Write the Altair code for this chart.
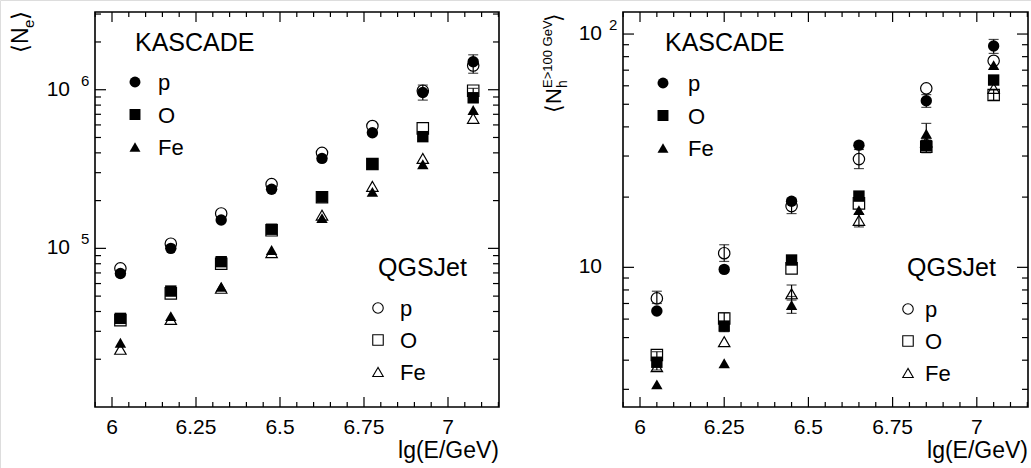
import altair as alt
import pandas as pd

FONT = "Liberation Sans"
W, H = 1031, 468

# ---------------- data ----------------
SPECIES = ["p", "O", "Fe"]

# left panel: <N_e> vs lg(E/GeV)
E_NE = [6.025, 6.175, 6.325, 6.475, 6.625, 6.775, 6.925, 7.075]
NE_P_DATA = [6.95e4, 1.00e5, 1.51e5, 2.36e5, 3.69e5, 5.36e5, 9.6e5, 1.50e6]
NE_O_DATA = [3.62e4, 5.38e4, 8.24e4, 1.32e5, 2.11e5, 3.39e5, 5.06e5, 8.9e5]
NE_FE_DATA = [2.54e4, 3.74e4, 5.73e4, 9.76e4, 1.55e5, 2.27e5, 3.39e5, 7.45e5]
NE_P_QGS = [7.48e4, 1.07e5, 1.66e5, 2.54e5, 4.00e5, 5.90e5, 9.86e5, 1.42e6]
NE_O_QGS = [3.53e4, 5.20e4, 8.00e4, 1.30e5, 2.10e5, 3.40e5, 5.71e5, 9.86e5]
NE_FE_QGS = [2.31e4, 3.56e4, 5.60e4, 9.40e4, 1.62e5, 2.46e5, 3.69e5, 6.60e5]

NE_ERR_E = [6.925, 7.075, 7.075]
NE_ERR_LO = [8.6e5, 1.27e6, 8.3e5]
NE_ERR_HI = [1.07e6, 1.66e6, 1.02e6]

# right panel: <N_h^{E>100 GeV}> vs lg(E/GeV)
E_NH = [6.05, 6.25, 6.45, 6.65, 6.85, 7.05]
NH_P_DATA = [6.5, 9.8, 19.2, 33.4, 51.8, 88.9]
NH_O_DATA = [3.92, 5.6, 10.75, 20.2, 33.2, 63.5]
NH_FE_DATA = [3.15, 3.88, 6.9, 17.6, 37.4, 73.6]
NH_P_QGS = [7.36, 11.5, 18.3, 29.1, 58.5, 76.8]
NH_O_QGS = [4.21, 6.04, 9.9, 18.8, 32.9, 54.8]
NH_FE_QGS = [3.75, 4.8, 7.7, 15.9, 34.5, 58.5]

NH_ERR_E = [6.05, 6.25, 6.05, 6.25, 6.45, 6.45, 6.45, 6.65, 6.65, 6.85, 6.85, 6.85, 7.05, 7.05]
NH_ERR_LO = [7.0, 10.6, 3.63, 5.3, 17.0, 7.24, 6.35, 26.5, 14.9, 33.8, 31.0, 48.5, 82.6, 52.1]
NH_ERR_HI = [7.9, 12.5, 4.35, 6.38, 19.6, 8.4, 7.5, 32.0, 17.0, 41.4, 35.5, 55.0, 94.8, 57.5]

# tick values / labels
X_MAJOR = [6.0, 6.25, 6.5, 6.75, 7.0]
X_LABELS = ["6", "6.25", "6.5", "6.75", "7"]
X_MINOR = [round(5.95 + 0.05 * i, 2) for i in range(25)]
X_MINOR = [v for v in X_MINOR if v not in X_MAJOR]

NE_MAJOR = [1e5, 1e6]
NE_EXP = ["5", "6"]
NE_MINOR = [k * 10.0 ** e for e in (4, 5) for k in range(2, 10)] + [2e6, 3e6]

NH_MAJOR = [10, 100]
NH_BASE = ["10", "10"]
NH_EXP = ["", "2"]
NH_MINOR = list(range(3, 10)) + [k * 10 for k in range(2, 10)]

# ---------------- geometry ----------------
Y0, Y1 = 12, 407
LEFT = dict(x0=95, x1=499, xdom=[5.9494, 7.1518], ydom=[1e4, 3.09e6])
RIGHT = dict(x0=623, x1=1028, xdom=[5.9495, 7.152], ydom=[2.52, 124.3])

shape_scale = alt.Scale(domain=SPECIES, range=["circle", "square", "triangle-up"])
layers = []


def one():
    return alt.Chart(pd.DataFrame({"a": [0]}))


def scales(P):
    xs = alt.Scale(domain=P["xdom"], range=[P["x0"], P["x1"]], nice=False, zero=False)
    ys = alt.Scale(type="log", domain=P["ydom"], range=[Y1, Y0], nice=False)
    return xs, ys


def frame_and_ticks(P, ymaj, ymin):
    xs, ys = scales(P)
    x0, x1 = P["x0"], P["x1"]
    out = []
    out.append(one().mark_rect(filled=False, stroke="black", strokeWidth=1.6).encode(
        x=alt.value(x0), x2=alt.value(x1), y=alt.value(Y0), y2=alt.value(Y1)))
    for vals, ln in ((X_MAJOR, 10), (X_MINOR, 5)):
        df = pd.DataFrame({"v": vals})
        for ya, yb in ((Y1, Y1 - ln), (Y0, Y0 + ln)):
            out.append(alt.Chart(df).mark_rule(color="black", strokeWidth=1.2).encode(
                x=alt.X("v:Q", scale=xs, axis=None), y=alt.value(ya), y2=alt.value(yb)))
    for vals, ln in ((ymaj, 11), (ymin, 6)):
        df = pd.DataFrame({"v": vals})
        for xa, xb in ((x0, x0 + ln), (x1, x1 - ln)):
            out.append(alt.Chart(df).mark_rule(color="black", strokeWidth=1.2).encode(
                y=alt.Y("v:Q", scale=ys, axis=None), x=alt.value(xa), x2=alt.value(xb)))
    # x tick labels
    out.append(alt.Chart(pd.DataFrame({"v": X_MAJOR, "t": X_LABELS})).mark_text(
        font=FONT, fontSize=21, align="center", baseline="alphabetic").encode(
        x=alt.X("v:Q", scale=xs, axis=None), y=alt.value(434), text="t:N"))
    # x title
    out.append(one().mark_text(font=FONT, fontSize=23, align="right", baseline="alphabetic").encode(
        x=alt.value(x1), y=alt.value(458), text=alt.value("lg(E/GeV)")))
    return out


def ylabels(P, vals, bases, exps, base_dx, exp_dx):
    xs, ys = scales(P)
    df = pd.DataFrame({"v": vals, "b": bases, "e": exps})
    return [
        alt.Chart(df).mark_text(font=FONT, fontSize=21, align="right", baseline="middle").encode(
            x=alt.value(P["x0"] - base_dx), y=alt.Y("v:Q", scale=ys, axis=None), text="b:N"),
        alt.Chart(df).mark_text(font=FONT, fontSize=15, align="left", baseline="middle", dy=-9).encode(
            x=alt.value(P["x0"] - exp_dx), y=alt.Y("v:Q", scale=ys, axis=None), text="e:N"),
    ]


def points(P, E, data, qgs, err):
    xs, ys = scales(P)
    rows_d, rows_q = [], []
    for sp, dv, qv in zip(SPECIES, data, qgs):
        for e, a, b in zip(E, dv, qv):
            rows_d.append({"e": e, "v": a, "sp": sp})
            rows_q.append({"e": e, "v": b, "sp": sp})
    ee, lo, hi = err
    dfe = pd.DataFrame({"e": ee, "lo": lo, "hi": hi})
    X = alt.X("e:Q", scale=xs, axis=None)
    out = [
        alt.Chart(dfe).mark_rule(color="black", strokeWidth=1.2).encode(
            x=X, y=alt.Y("lo:Q", scale=ys, axis=None), y2="hi:Q"),
        alt.Chart(dfe).mark_tick(orient="horizontal", color="black", size=10, thickness=1.2).encode(
            x=X, y=alt.Y("lo:Q", scale=ys, axis=None)),
        alt.Chart(dfe).mark_tick(orient="horizontal", color="black", size=10, thickness=1.2).encode(
            x=X, y=alt.Y("hi:Q", scale=ys, axis=None)),
        alt.Chart(pd.DataFrame(rows_q)).mark_point(filled=False, color="black", strokeWidth=1.2,
                                                   size=130, opacity=1).encode(
            x=X, y=alt.Y("v:Q", scale=ys, axis=None),
            shape=alt.Shape("sp:N", scale=shape_scale, legend=None)),
        alt.Chart(pd.DataFrame(rows_d)).mark_point(filled=True, color="black", size=130, opacity=1).encode(
            x=X, y=alt.Y("v:Q", scale=ys, axis=None),
            shape=alt.Shape("sp:N", scale=shape_scale, legend=None)),
    ]
    return out


def legend(title, tx, ty, mx, lx, y_first, step, filled):
    df = pd.DataFrame({"sp": SPECIES, "py": [y_first + i * step for i in range(3)]})
    mk = dict(filled=True, color="black", size=120, opacity=1) if filled else \
        dict(filled=False, color="black", strokeWidth=1.1, size=110, opacity=1)
    return [
        one().mark_text(font=FONT, fontSize=25, align="left", baseline="alphabetic").encode(
            x=alt.value(tx), y=alt.value(ty), text=alt.value(title)),
        alt.Chart(df).mark_point(**mk).encode(
            x=alt.value(mx), y=alt.Y("py:Q", scale=None, axis=None),
            shape=alt.Shape("sp:N", scale=shape_scale, legend=None)),
        alt.Chart(df).mark_text(font=FONT, fontSize=22, align="left", baseline="middle", dy=1).encode(
            x=alt.value(lx), y=alt.Y("py:Q", scale=None, axis=None), text="sp:N"),
    ]


def rtext(txt, x, y, size):
    return one().mark_text(font=FONT, fontSize=size, angle=270, align="left", baseline="alphabetic").encode(
        x=alt.value(x), y=alt.value(y), text=alt.value(txt))


# left panel
layers += frame_and_ticks(LEFT, NE_MAJOR, NE_MINOR)
layers += ylabels(LEFT, NE_MAJOR, ["10", "10"], NE_EXP, 25, 14)
layers += points(LEFT, E_NE, [NE_P_DATA, NE_O_DATA, NE_FE_DATA], [NE_P_QGS, NE_O_QGS, NE_FE_QGS],
                 (NE_ERR_E, NE_ERR_LO, NE_ERR_HI))
layers += legend("KASCADE", 135, 51, 135, 158, 82, 32.5, True)
layers += legend("QGSJet", 378, 276, 378, 400, 308, 32, False)
layers += [rtext("⟨N", 28, 53, 23), rtext("e", 34, 28, 15), rtext("⟩", 28, 20, 23)]

# right panel
layers += frame_and_ticks(RIGHT, NH_MAJOR, NH_MINOR)
layers += ylabels(RIGHT, NH_MAJOR, NH_BASE, NH_EXP, 21, 14)
layers += points(RIGHT, E_NH, [NH_P_DATA, NH_O_DATA, NH_FE_DATA], [NH_P_QGS, NH_O_QGS, NH_FE_QGS],
                 (NH_ERR_E, NH_ERR_LO, NH_ERR_HI))
layers += legend("KASCADE", 665, 51, 663, 688, 83, 32.5, True)
layers += legend("QGSJet", 907, 276, 908, 925, 309, 32, False)
layers += [rtext("⟨N", 561, 113, 22), rtext("h", 567, 88, 14),
           rtext("E>100 GeV", 552, 88, 13), rtext("⟩", 561, 22, 22)]

chart = alt.layer(*layers).resolve_scale(x="independent", y="independent").properties(
    width=W, height=H, autosize=alt.AutoSizeParams(type="none"),
    padding={"left": 0, "top": 0, "right": 0, "bottom": 0},
    background="white",
).configure_view(strokeWidth=0).configure(font=FONT)

chart.save("out.html", embed_options={"renderer": "svg", "actions": False})
